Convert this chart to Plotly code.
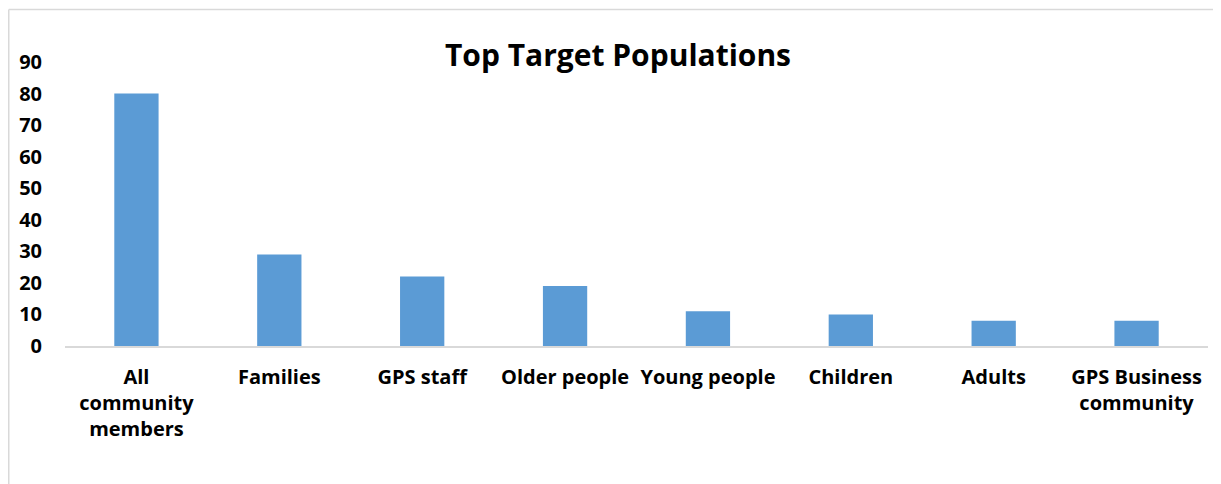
import plotly.graph_objects as go

categories = ["All<br>community<br>members", "Families", "GPS staff", "Older people",
              "Young people", "Children", "Adults", "GPS Business<br>community"]
values = [80, 29, 22, 19, 11, 10, 8, 8]
y_ticks = [0, 10, 20, 30, 40, 50, 60, 70, 80, 90]

FONT = "Open Sans"
BAR_COLOR = "#5B9BD5"
GRAY = "#D9D9D9"

# page has an 8px body margin, so figure is sized to fit the window
W, H = 1213, 476
L, R, T, B = 57, 13, 54, 138
pw, ph = W - L - R, H - T - B

def px_x(px):
    return (px - L) / pw

def px_y(py):
    return (H - B - py) / ph

fig = go.Figure(go.Bar(
    x=categories, y=values,
    marker=dict(color=BAR_COLOR, line=dict(width=0)),
    width=0.31,
))

fig.update_layout(
    width=W, height=H,
    margin=dict(l=L, r=R, t=T, b=B),
    paper_bgcolor="white", plot_bgcolor="white",
    title=dict(text="<b>Top Target Populations</b>", x=610 / W,
               xanchor="center", y=1 - 47 / H, yanchor="middle",
               xref="container", yref="container",
               font=dict(family=FONT, size=30, color="black")),
    showlegend=False,
    font=dict(family=FONT, color="black"),
)
fig.update_xaxes(
    showline=True, linecolor=GRAY, linewidth=2,
    showgrid=False, ticks="", tickangle=0,
    tickfont=dict(family=FONT, size=20, color="black", weight="bold"),
    ticklabelstandoff=12,
)
fig.update_yaxes(
    range=[0, 90], tickvals=y_ticks, showgrid=False, showline=False,
    zeroline=False, ticks="",
    tickfont=dict(family=FONT, size=20, color="black", weight="bold"),
    ticklabelstandoff=22,
)
# chart-area border (top and left edges visible)
fig.add_shape(type="line", xref="paper", yref="paper",
              x0=px_x(0.75), x1=px_x(W + 5), y0=px_y(1.5), y1=px_y(1.5),
              line=dict(color=GRAY, width=1.5))
fig.add_shape(type="line", xref="paper", yref="paper",
              x0=px_x(0.75), x1=px_x(0.75), y0=px_y(1.5), y1=px_y(H + 5),
              line=dict(color=GRAY, width=1.5))

fig.write_html("out.html")
